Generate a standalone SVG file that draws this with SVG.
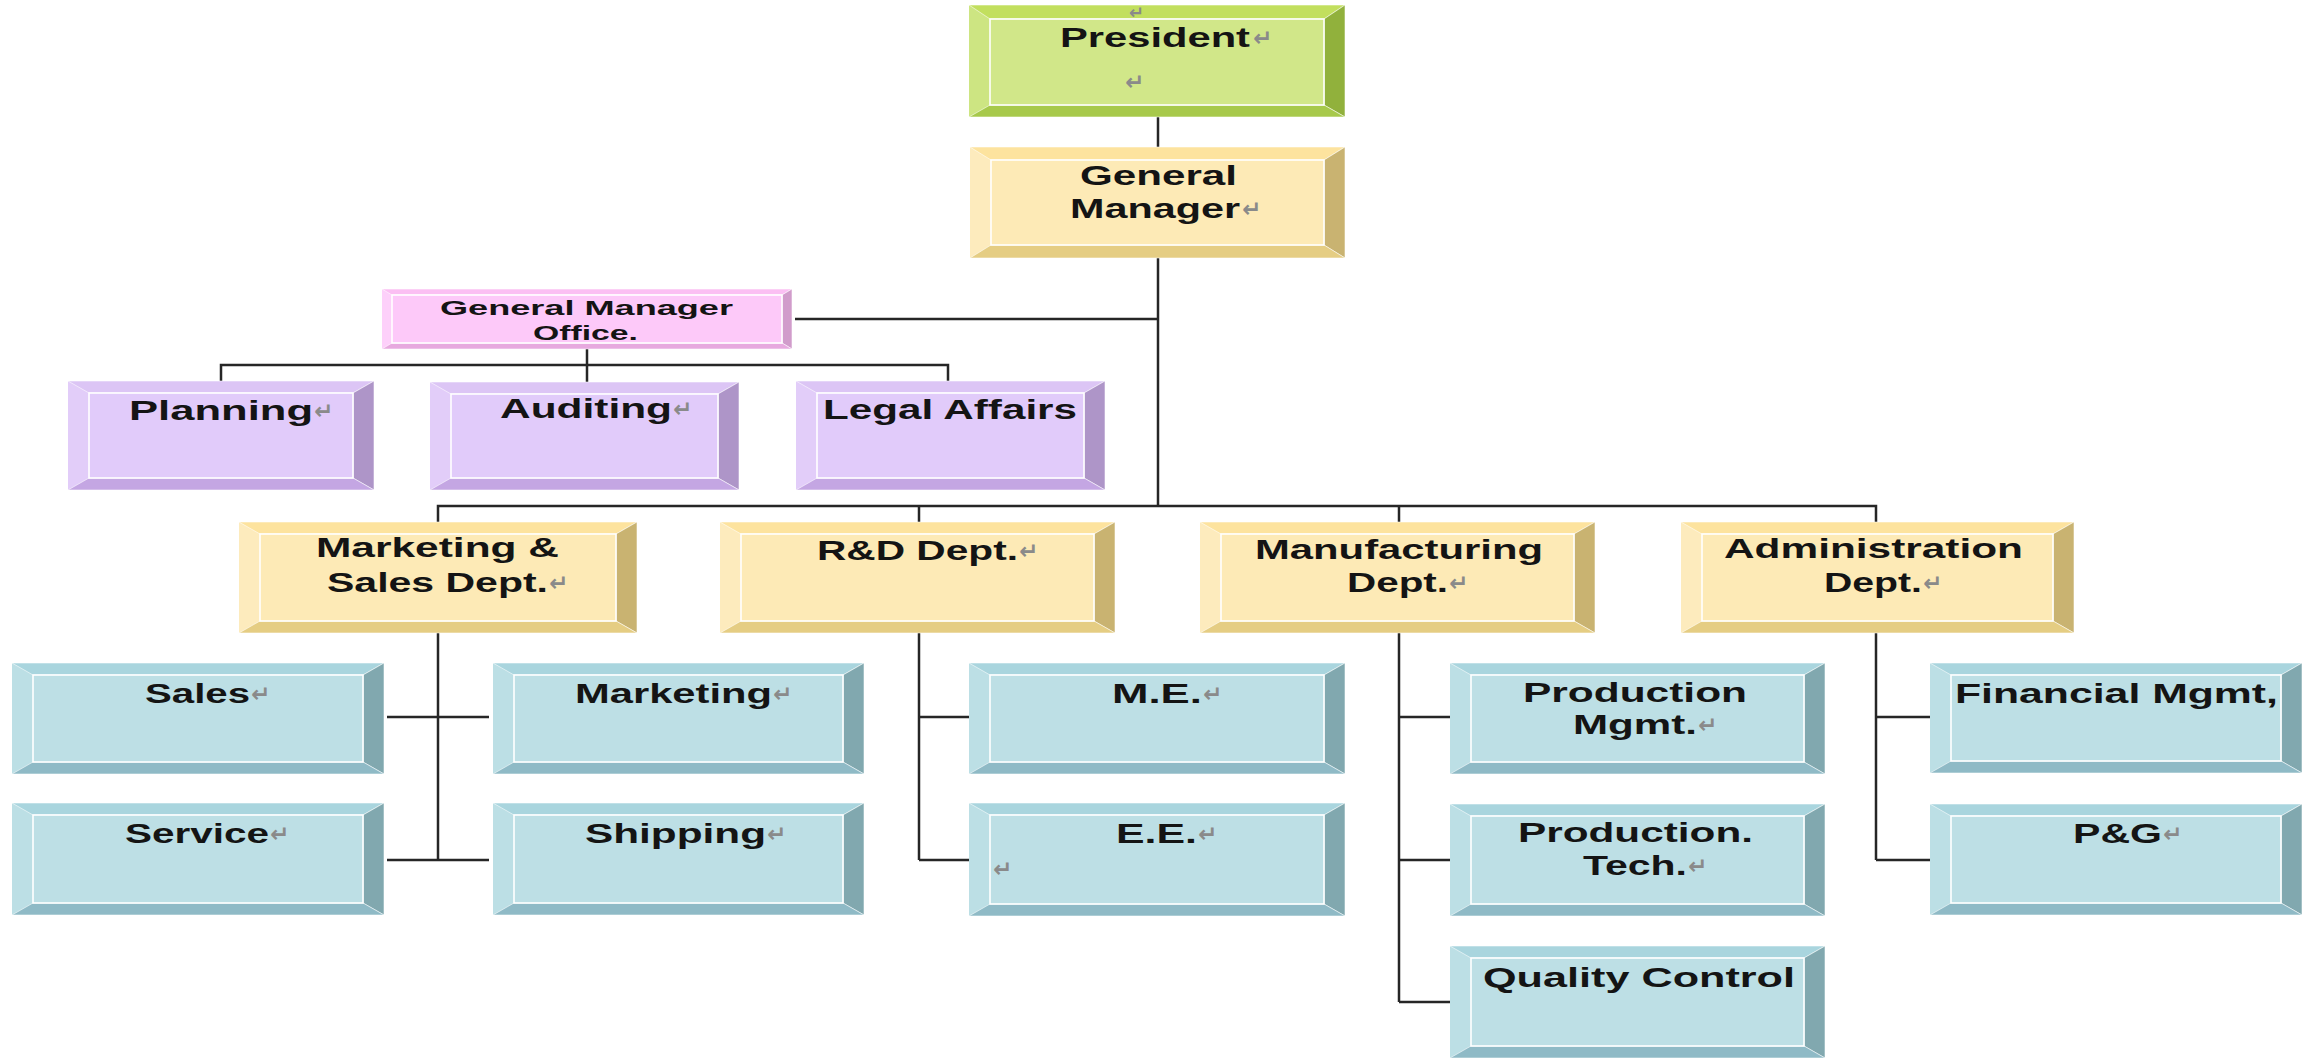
<svg xmlns="http://www.w3.org/2000/svg" width="2313" height="1058" viewBox="0 0 2313 1058">
<style>
.bg{fill:#ffffff}
.node polygon{stroke:rgba(255,255,255,0.55);stroke-width:1}
.node .f{stroke:#ffffff;stroke-width:1.6}
.green .l{fill:#cde582}.green .t{fill:#c2df5e}.green .r{fill:#91b13c}.green .b{fill:#a7c94b}.green .f{fill:#d1e789}
.yellow .l{fill:#fdebbd}.yellow .t{fill:#fde39e}.yellow .r{fill:#c9b371}.yellow .b{fill:#e5cd83}.yellow .f{fill:#fdeab6}
.pink .l{fill:#fdd0fa}.pink .t{fill:#fbbff3}.pink .r{fill:#d19ccb}.pink .b{fill:#e7a9df}.pink .f{fill:#fdc9f9}
.purple .l{fill:#e2cdf9}.purple .t{fill:#dcc5f5}.purple .r{fill:#ae95c8}.purple .b{fill:#c4a6e3}.purple .f{fill:#e1cbfa}
.teal .l{fill:#bcdfe5}.teal .t{fill:#a9d5de}.teal .r{fill:#81a8af}.teal .b{fill:#8fbac6}.teal .f{fill:#bddfe5}
.lbl{font-family:"Liberation Sans",Arial,sans-serif;font-weight:bold;font-size:27px;fill:#141414}
.sm{font-size:21px}
.pm{font-family:"DejaVu Sans",sans-serif;font-size:23px;font-weight:bold;fill:#8a8a8a}
.pm2{font-size:18px}
.conn{fill:none;stroke:#262626;stroke-width:2.5}
</style>
<rect class="bg" x="0" y="0" width="2313" height="1058"/>

<g id="connectors" class="conn">
<path d="M1158 117V147"/>
<path d="M1158 258V506"/>
<path d="M795 319H1158"/>
<path d="M438 522V506H1876V522"/>
<path d="M919 506V522"/>
<path d="M1399 506V522"/>
<path d="M587 349V382"/>
<path d="M221 381V365H948V381"/>
<path d="M438 633V860"/>
<path d="M387 717H489"/>
<path d="M387 860H489"/>
<path d="M919 633V860"/>
<path d="M919 717H969"/>
<path d="M919 860H969"/>
<path d="M1399 633V1002"/>
<path d="M1399 717H1450"/>
<path d="M1399 860H1450"/>
<path d="M1399 1002H1450"/>
<path d="M1876 633V860"/>
<path d="M1876 717H1930"/>
<path d="M1876 860H1930"/>
</g>

<g id="president" class="node green">
<rect class="l" x="969" y="5" width="376" height="112"/>
<polygon class="t" points="969,5 1345,5 1324,19 990,19"/>
<polygon class="r" points="1345,5 1345,117 1324,105 1324,19"/>
<polygon class="b" points="969,117 1345,117 1324,105 990,105"/>
<rect class="f" x="990" y="19" width="334" height="86"/>
<text class="pm pm2" x="1129" y="19">↵</text>
<text class="lbl" x="1060" y="47" textLength="190" lengthAdjust="spacingAndGlyphs">President</text>
<text class="pm" x="1253" y="46">↵</text>
<text class="pm" x="1125" y="90">↵</text>
</g>

<g id="general-manager" class="node yellow">
<rect class="l" x="970" y="147" width="375" height="111"/>
<polygon class="t" points="970,147 1345,147 1324,160 991,160"/>
<polygon class="r" points="1345,147 1345,258 1324,245 1324,160"/>
<polygon class="b" points="970,258 1345,258 1324,245 991,245"/>
<rect class="f" x="991" y="160" width="333" height="85"/>
<text class="lbl" x="1080" y="185" textLength="157" lengthAdjust="spacingAndGlyphs">General</text>
<text class="lbl" x="1070" y="218" textLength="170" lengthAdjust="spacingAndGlyphs">Manager</text>
<text class="pm" x="1242" y="217">↵</text>
</g>

<g id="gm-office" class="node pink">
<rect class="l" x="382" y="289" width="410" height="60"/>
<polygon class="t" points="382,289 792,289 782,295 392,295"/>
<polygon class="r" points="792,289 792,349 782,343 782,295"/>
<polygon class="b" points="382,349 792,349 782,343 392,343"/>
<rect class="f" x="392" y="295" width="390" height="48"/>
<text class="lbl sm" x="440" y="315" textLength="293" lengthAdjust="spacingAndGlyphs">General Manager</text>
<text class="lbl sm" x="533" y="340" textLength="105" lengthAdjust="spacingAndGlyphs">Office.</text>
</g>

<g id="planning" class="node purple">
<rect class="l" x="68" y="381" width="306" height="109"/>
<polygon class="t" points="68,381 374,381 353,393 89,393"/>
<polygon class="r" points="374,381 374,490 353,478 353,393"/>
<polygon class="b" points="68,490 374,490 353,478 89,478"/>
<rect class="f" x="89" y="393" width="264" height="85"/>
<text class="lbl" x="129" y="420" textLength="184" lengthAdjust="spacingAndGlyphs">Planning</text>
<text class="pm" x="314" y="419">↵</text>
</g>

<g id="auditing" class="node purple">
<rect class="l" x="430" y="382" width="309" height="108"/>
<polygon class="t" points="430,382 739,382 718,394 451,394"/>
<polygon class="r" points="739,382 739,490 718,478 718,394"/>
<polygon class="b" points="430,490 739,490 718,478 451,478"/>
<rect class="f" x="451" y="394" width="267" height="84"/>
<text class="lbl" x="500" y="418" textLength="172" lengthAdjust="spacingAndGlyphs">Auditing</text>
<text class="pm" x="673" y="417">↵</text>
</g>

<g id="legal-affairs" class="node purple">
<rect class="l" x="796" y="381" width="309" height="109"/>
<polygon class="t" points="796,381 1105,381 1084,393 817,393"/>
<polygon class="r" points="1105,381 1105,490 1084,478 1084,393"/>
<polygon class="b" points="796,490 1105,490 1084,478 817,478"/>
<rect class="f" x="817" y="393" width="267" height="85"/>
<text class="lbl" x="823" y="419" textLength="254" lengthAdjust="spacingAndGlyphs">Legal Affairs</text>
</g>

<g id="marketing-sales-dept" class="node yellow">
<rect class="l" x="239" y="522" width="398" height="111"/>
<polygon class="t" points="239,522 637,522 616,534 260,534"/>
<polygon class="r" points="637,522 637,633 616,621 616,534"/>
<polygon class="b" points="239,633 637,633 616,621 260,621"/>
<rect class="f" x="260" y="534" width="356" height="87"/>
<text class="lbl" x="316" y="557" textLength="243" lengthAdjust="spacingAndGlyphs">Marketing &amp;</text>
<text class="lbl" x="327" y="592" textLength="221" lengthAdjust="spacingAndGlyphs">Sales Dept.</text>
<text class="pm" x="549" y="591">↵</text>
</g>

<g id="rd-dept" class="node yellow">
<rect class="l" x="720" y="522" width="395" height="111"/>
<polygon class="t" points="720,522 1115,522 1094,534 741,534"/>
<polygon class="r" points="1115,522 1115,633 1094,621 1094,534"/>
<polygon class="b" points="720,633 1115,633 1094,621 741,621"/>
<rect class="f" x="741" y="534" width="353" height="87"/>
<text class="lbl" x="817" y="560" textLength="201" lengthAdjust="spacingAndGlyphs">R&amp;D Dept.</text>
<text class="pm" x="1019" y="559">↵</text>
</g>

<g id="manufacturing-dept" class="node yellow">
<rect class="l" x="1200" y="522" width="395" height="111"/>
<polygon class="t" points="1200,522 1595,522 1574,534 1221,534"/>
<polygon class="r" points="1595,522 1595,633 1574,621 1574,534"/>
<polygon class="b" points="1200,633 1595,633 1574,621 1221,621"/>
<rect class="f" x="1221" y="534" width="353" height="87"/>
<text class="lbl" x="1255" y="559" textLength="288" lengthAdjust="spacingAndGlyphs">Manufacturing</text>
<text class="lbl" x="1347" y="592" textLength="101" lengthAdjust="spacingAndGlyphs">Dept.</text>
<text class="pm" x="1449" y="591">↵</text>
</g>

<g id="administration-dept" class="node yellow">
<rect class="l" x="1681" y="522" width="393" height="111"/>
<polygon class="t" points="1681,522 2074,522 2053,534 1702,534"/>
<polygon class="r" points="2074,522 2074,633 2053,621 2053,534"/>
<polygon class="b" points="1681,633 2074,633 2053,621 1702,621"/>
<rect class="f" x="1702" y="534" width="351" height="87"/>
<text class="lbl" x="1724" y="558" textLength="299" lengthAdjust="spacingAndGlyphs">Administration</text>
<text class="lbl" x="1824" y="592" textLength="98" lengthAdjust="spacingAndGlyphs">Dept.</text>
<text class="pm" x="1923" y="591">↵</text>
</g>

<g id="sales" class="node teal">
<rect class="l" x="12" y="663" width="372" height="111"/>
<polygon class="t" points="12,663 384,663 363,675 33,675"/>
<polygon class="r" points="384,663 384,774 363,762 363,675"/>
<polygon class="b" points="12,774 384,774 363,762 33,762"/>
<rect class="f" x="33" y="675" width="330" height="87"/>
<text class="lbl" x="145" y="703" textLength="105" lengthAdjust="spacingAndGlyphs">Sales</text>
<text class="pm" x="251" y="702">↵</text>
</g>

<g id="marketing" class="node teal">
<rect class="l" x="493" y="663" width="371" height="111"/>
<polygon class="t" points="493,663 864,663 843,675 514,675"/>
<polygon class="r" points="864,663 864,774 843,762 843,675"/>
<polygon class="b" points="493,774 864,774 843,762 514,762"/>
<rect class="f" x="514" y="675" width="329" height="87"/>
<text class="lbl" x="575" y="703" textLength="197" lengthAdjust="spacingAndGlyphs">Marketing</text>
<text class="pm" x="773" y="702">↵</text>
</g>

<g id="service" class="node teal">
<rect class="l" x="12" y="803" width="372" height="112"/>
<polygon class="t" points="12,803 384,803 363,815 33,815"/>
<polygon class="r" points="384,803 384,915 363,903 363,815"/>
<polygon class="b" points="12,915 384,915 363,903 33,903"/>
<rect class="f" x="33" y="815" width="330" height="88"/>
<text class="lbl" x="125" y="843" textLength="144" lengthAdjust="spacingAndGlyphs">Service</text>
<text class="pm" x="270" y="842">↵</text>
</g>

<g id="shipping" class="node teal">
<rect class="l" x="493" y="803" width="371" height="112"/>
<polygon class="t" points="493,803 864,803 843,815 514,815"/>
<polygon class="r" points="864,803 864,915 843,903 843,815"/>
<polygon class="b" points="493,915 864,915 843,903 514,903"/>
<rect class="f" x="514" y="815" width="329" height="88"/>
<text class="lbl" x="585" y="843" textLength="181" lengthAdjust="spacingAndGlyphs">Shipping</text>
<text class="pm" x="767" y="842">↵</text>
</g>

<g id="me" class="node teal">
<rect class="l" x="969" y="663" width="376" height="111"/>
<polygon class="t" points="969,663 1345,663 1324,675 990,675"/>
<polygon class="r" points="1345,663 1345,774 1324,762 1324,675"/>
<polygon class="b" points="969,774 1345,774 1324,762 990,762"/>
<rect class="f" x="990" y="675" width="334" height="87"/>
<text class="lbl" x="1112" y="703" textLength="90" lengthAdjust="spacingAndGlyphs">M.E.</text>
<text class="pm" x="1203" y="702">↵</text>
</g>

<g id="ee" class="node teal">
<rect class="l" x="969" y="803" width="376" height="113"/>
<polygon class="t" points="969,803 1345,803 1324,815 990,815"/>
<polygon class="r" points="1345,803 1345,916 1324,904 1324,815"/>
<polygon class="b" points="969,916 1345,916 1324,904 990,904"/>
<rect class="f" x="990" y="815" width="334" height="89"/>
<text class="lbl" x="1116" y="843" textLength="81" lengthAdjust="spacingAndGlyphs">E.E.</text>
<text class="pm" x="1198" y="842">↵</text>
<text class="pm" x="993" y="877">↵</text>
</g>

<g id="production-mgmt" class="node teal">
<rect class="l" x="1450" y="663" width="375" height="111"/>
<polygon class="t" points="1450,663 1825,663 1804,675 1471,675"/>
<polygon class="r" points="1825,663 1825,774 1804,762 1804,675"/>
<polygon class="b" points="1450,774 1825,774 1804,762 1471,762"/>
<rect class="f" x="1471" y="675" width="333" height="87"/>
<text class="lbl" x="1523" y="702" textLength="224" lengthAdjust="spacingAndGlyphs">Production</text>
<text class="lbl" x="1573" y="734" textLength="124" lengthAdjust="spacingAndGlyphs">Mgmt.</text>
<text class="pm" x="1698" y="733">↵</text>
</g>

<g id="production-tech" class="node teal">
<rect class="l" x="1450" y="804" width="375" height="112"/>
<polygon class="t" points="1450,804 1825,804 1804,816 1471,816"/>
<polygon class="r" points="1825,804 1825,916 1804,904 1804,816"/>
<polygon class="b" points="1450,916 1825,916 1804,904 1471,904"/>
<rect class="f" x="1471" y="816" width="333" height="88"/>
<text class="lbl" x="1518" y="842" textLength="235" lengthAdjust="spacingAndGlyphs">Production.</text>
<text class="lbl" x="1583" y="875" textLength="104" lengthAdjust="spacingAndGlyphs">Tech.</text>
<text class="pm" x="1688" y="874">↵</text>
</g>

<g id="quality-control" class="node teal">
<rect class="l" x="1450" y="946" width="375" height="112"/>
<polygon class="t" points="1450,946 1825,946 1804,958 1471,958"/>
<polygon class="r" points="1825,946 1825,1058 1804,1046 1804,958"/>
<polygon class="b" points="1450,1058 1825,1058 1804,1046 1471,1046"/>
<rect class="f" x="1471" y="958" width="333" height="88"/>
<text class="lbl" x="1483" y="987" textLength="312" lengthAdjust="spacingAndGlyphs">Quality Control</text>
</g>

<g id="financial-mgmt" class="node teal">
<rect class="l" x="1930" y="663" width="372" height="110"/>
<polygon class="t" points="1930,663 2302,663 2281,675 1951,675"/>
<polygon class="r" points="2302,663 2302,773 2281,761 2281,675"/>
<polygon class="b" points="1930,773 2302,773 2281,761 1951,761"/>
<rect class="f" x="1951" y="675" width="330" height="86"/>
<text class="lbl" x="1955" y="703" textLength="323" lengthAdjust="spacingAndGlyphs">Financial Mgmt,</text>
</g>

<g id="pg" class="node teal">
<rect class="l" x="1930" y="804" width="372" height="111"/>
<polygon class="t" points="1930,804 2302,804 2281,816 1951,816"/>
<polygon class="r" points="2302,804 2302,915 2281,903 2281,816"/>
<polygon class="b" points="1930,915 2302,915 2281,903 1951,903"/>
<rect class="f" x="1951" y="816" width="330" height="87"/>
<text class="lbl" x="2073" y="843" textLength="89" lengthAdjust="spacingAndGlyphs">P&amp;G</text>
<text class="pm" x="2163" y="842">↵</text>
</g>
</svg>
